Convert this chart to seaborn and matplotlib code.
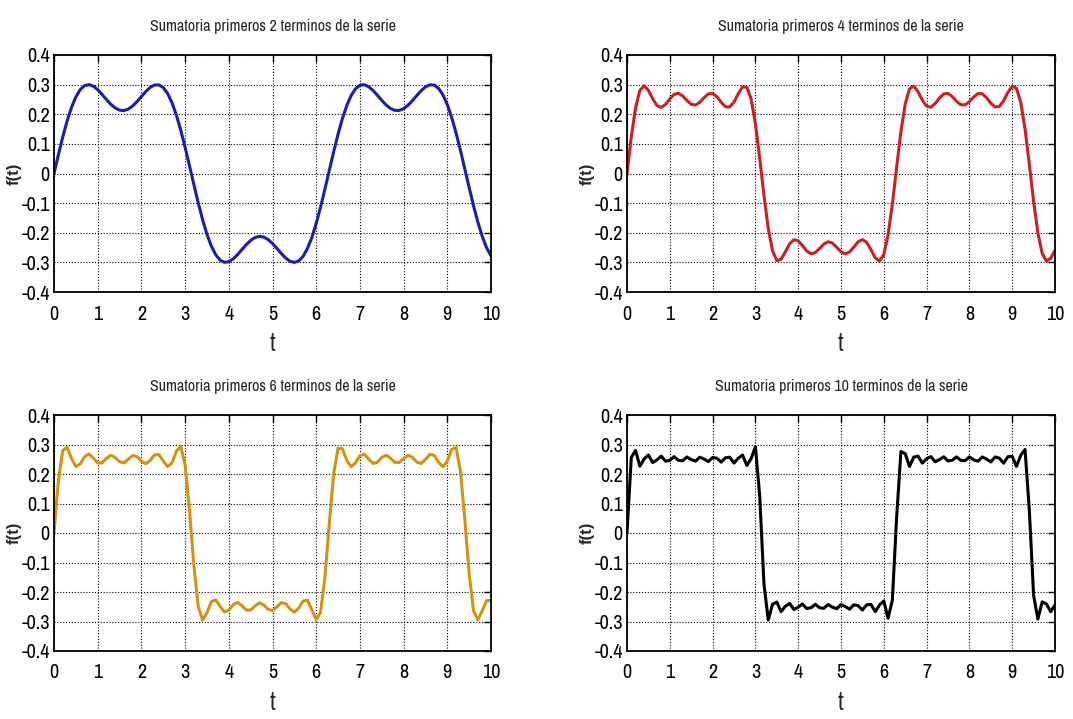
import numpy as np
import pandas as pd
import matplotlib
matplotlib.use("Agg")
import matplotlib.pyplot as plt
from matplotlib import font_manager
import seaborn as sns

# ---- data ----
# Fourier sine series of a square wave: odd harmonics and their amplitudes
harmonics = [1, 3, 5, 7, 9, 11, 13, 15, 17, 19]
amplitudes = [0.3183, 0.1061, 0.0637, 0.0455, 0.0354, 0.0289, 0.0245, 0.0212, 0.0187, 0.0168]
terms_per_panel = [2, 4, 6, 10]
panel_colors = ["#1c1cb0", "#cc1f1f", "#d4920f", "#000000"]
t_start, t_stop, t_step = 0.0, 10.0, 0.1
x_ticks = [0, 1, 2, 3, 4, 5, 6, 7, 8, 9, 10]
y_ticks = [-0.4, -0.3, -0.2, -0.1, 0, 0.1, 0.2, 0.3, 0.4]
y_tick_labels = ["-0.4", "-0.3", "-0.2", "-0.1", "0", "0.1", "0.2", "0.3", "0.4"]
title_fmt = "Sumatoria primeros {} terminos de la serie"

t = np.round(np.arange(t_start, t_stop + t_step / 2, t_step), 10)
frames = []
for n_terms in terms_per_panel:
    f = np.zeros_like(t)
    for h, a in zip(harmonics[:n_terms], amplitudes[:n_terms]):
        f = f + a * np.sin(h * t)
    frames.append(pd.DataFrame({"t": t, "f": f}))

sns.set_style("white")
available = {f.name for f in font_manager.fontManager.ttflist}
narrow = [n for n in ["Archivo Narrow", "Barlow Condensed"] if n in available]
plt.rcParams["font.family"] = narrow + ["Liberation Sans", "DejaVu Sans"]
scale = 1.0 if narrow else 0.8

W, H = 1073, 719
fig = plt.figure(figsize=(W / 100, H / 100), dpi=100)

boxes = [
    (54, 55, 491, 292),
    (627, 55, 1055, 292),
    (54, 415, 491, 651),
    (627, 415, 1055, 651),
]

for (x0, y0, x1, y1), df, n_terms, col in zip(boxes, frames, terms_per_panel, panel_colors):
    ax = fig.add_axes([x0 / W, 1 - y1 / H, (x1 - x0) / W, (y1 - y0) / H])
    sns.lineplot(data=df, x="t", y="f", ax=ax, color=col, linewidth=2.2,
                 estimator=None, sort=False)
    ax.set_xlim(0, 10)
    ax.set_ylim(-0.4, 0.4)
    ax.set_xticks(x_ticks)
    ax.set_yticks(y_ticks)
    ax.set_yticklabels(y_tick_labels)
    ax.grid(True, color="black", linestyle=(0, (1, 1.6)), linewidth=0.8)
    ax.set_axisbelow(True)
    ax.tick_params(direction="in", length=5, width=1, top=True, right=True,
                   labelsize=14.5 * scale, colors="black")
    ax.tick_params(axis="x", pad=9)
    ax.tick_params(axis="y", pad=3)
    for sp in ax.spines.values():
        sp.set_visible(True)
        sp.set_color("black")
        sp.set_linewidth(1.3)
    ax.set_title(title_fmt.format(n_terms), fontsize=11.5 * scale, pad=17)
    ax.set_xlabel("t", fontsize=18 * scale, labelpad=6)
    ax.set_ylabel("f(t)", fontsize=12, fontweight="bold",
                  family=["Liberation Sans", "DejaVu Sans"])
    ax.yaxis.set_label_coords(-(32 / (x1 - x0)), 0.5)

fig.savefig("out.png", dpi=100, facecolor="white")
